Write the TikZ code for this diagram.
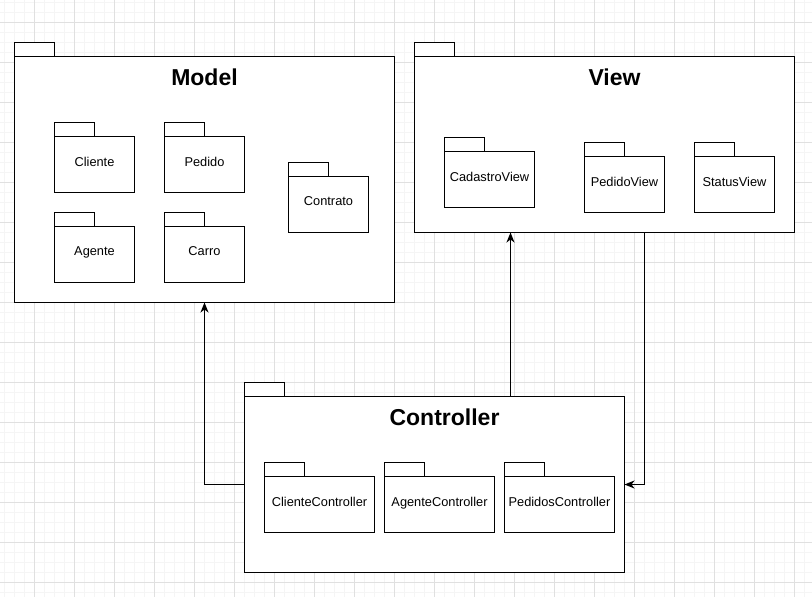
\documentclass[tikz,border=0pt]{standalone}
\usepackage{fontspec}
\setmainfont{Liberation Sans}
\usetikzlibrary{arrows.meta,positioning}
\tikzset{
  >={Stealth[length=10pt,width=8pt,inset=3pt]},
  minorgrid/.style={line width=1pt, black!4},
  majorgrid/.style={line width=1pt, black!12},
  pkg/.style={draw, line width=1.3pt, fill=white, anchor=north west,
    inner sep=0pt, outer sep=0pt},
  smallpkg/.style={pkg, minimum width=80pt, minimum height=56pt,
    font=\fontsize{12.8}{15}\selectfont, text depth=6pt},
  bigpkg/.style={pkg, minimum width=380pt},
  tab/.style={draw, line width=1.3pt, fill=white},
  pkgtitle/.style={font=\fontsize{23}{27}\selectfont\bfseries, inner sep=0pt},
  conn/.style={line width=1.3pt, ->},
}

\begin{document}
\begin{tikzpicture}[x=1pt,y=-1pt]
  \useasboundingbox (0,0) rectangle (812,597);
  \fill[white] (0,0) rectangle (812,597);

  % background grid
  \foreach \x in {4.5,14.5,...,804.5} \draw[minorgrid] (\x,0) -- (\x,597);
  \foreach \y in {2.5,12.5,...,592.5} \draw[minorgrid] (0,\y) -- (812,\y);
  \foreach \x in {34.5,74.5,...,794.5} \draw[majorgrid] (\x,0) -- (\x,597);
  \foreach \y in {22.5,62.5,...,582.5} \draw[majorgrid] (0,\y) -- (812,\y);

  \begin{scope}[shift={(0.5,0.5)}]
  % outer packages
  \node[bigpkg, minimum height=246pt] (model) at (14,56) {};
  \node[bigpkg, minimum height=176pt] (view) at (414,56) {};
  \node[bigpkg, minimum height=176pt] (controller) at (244,396) {};

  \node[pkgtitle] (modeltitle) at ([yshift=-20.5pt]model.north) {Model};
  \node[pkgtitle] (viewtitle) at ([xshift=10pt,yshift=-20.5pt]view.north) {View};
  \node[pkgtitle] (controllertitle) at ([xshift=10pt,yshift=-20.5pt]controller.north) {Controller};

  % model contents
  \node[smallpkg] (cliente) at (54,136) {Cliente};
  \node[smallpkg] (pedido) at (164,136) {Pedido};
  \node[smallpkg] (agente) at (54,226) {Agente};
  \node[smallpkg] (carro) at (164,226) {Carro};
  \node[smallpkg] (contrato) at (288,176) {Contrato};

  % view contents
  \node[smallpkg, minimum width=90pt] (cadastroview) at (444,151) {CadastroView};
  \node[smallpkg] (pedidoview) at (584,156) {PedidoView};
  \node[smallpkg] (statusview) at (694,156) {StatusView};

  % controller contents
  \node[smallpkg, minimum width=110pt] (clientecontroller) at (264,476) {ClienteController};
  \node[smallpkg, minimum width=110pt] (agentecontroller) at (384,476) {AgenteController};
  \node[smallpkg, minimum width=110pt] (pedidoscontroller) at (504,476) {PedidosController};

  % tabs
  \foreach \p in {model,view,controller,cliente,pedido,agente,carro,contrato,
    cadastroview,pedidoview,statusview,clientecontroller,agentecontroller,pedidoscontroller}
    \draw[tab] (\p.north west) rectangle ++(40,-14);

  % connectors
  \draw[conn] (controller.west) -| (model.south);
  \draw[conn] ([xshift=76pt]controller.north) -- ([xshift=76pt]controller.north |- view.south);
  \draw[conn] ([xshift=40pt]view.south) |- (controller.east);
  \end{scope}
\end{tikzpicture}
\end{document}
